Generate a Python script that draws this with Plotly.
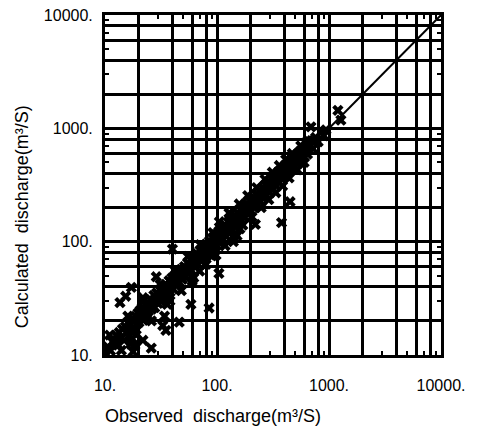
import plotly.graph_objects as go

# Observed vs. calculated discharge (m^3/s), paired values
observed = [
    10.1, 10.6, 11.2, 11.7, 12.1, 12.6, 13.1, 13.4, 13.9, 14.3, 14.8, 15.2, 15.7, 16.1,
    16.5, 16.9, 17.0, 17.4, 17.8, 18.3, 18.5, 18.8, 19.2, 19.7,
    13.6, 15.3, 17.2, 21.8, 12.7, 17.8, 21.8, 25.9, 17.5, 11.0, 14.0, 16.0, 19.0,
    20.1, 20.6, 21.0, 21.5, 22.0, 22.4, 22.9, 23.5, 24.0, 24.4, 25.0, 25.6, 26.1, 26.7,
    27.3, 27.8, 28.4, 29.0, 29.7, 30.3, 30.9, 31.6, 32.2, 32.9, 33.6, 34.3, 35.0, 35.8,
    36.5, 37.3, 38.1, 38.9, 39.7, 40.5, 41.4, 42.3, 43.2, 44.1, 45.0, 46.0, 47.0, 48.0, 49.0,
    28.7, 40.0, 34.0, 32.8, 35.0, 46.0, 38.0,
    22.0, 26.0, 31.0, 36.0, 42.0, 48.0, 55.0, 62.0, 71.0, 80.0, 92.0, 98.0,
    50.1, 51.2, 52.3, 53.4, 54.6, 55.8, 57.0, 58.2, 59.5, 60.8, 62.1, 63.4, 64.8, 66.2,
    67.6, 69.1, 70.6, 72.1, 73.7, 75.3, 76.9, 78.6, 80.3, 82.0, 83.8, 85.6, 87.5, 89.4,
    91.3, 93.3, 95.3, 97.4, 99.5,
    58.5, 85.0, 104.0, 60.0, 70.0, 90.0,
    101.6, 103.8, 106.0, 108.3, 110.7, 113.1, 115.5, 118.0, 120.6, 123.2, 125.9, 128.6,
    131.4, 134.2, 137.1, 140.1, 143.1, 146.2, 149.4, 152.6, 155.9, 159.3, 162.7, 166.2,
    169.8, 173.5, 177.2, 181.1, 185.0, 189.0, 193.1, 197.2,
    128.0, 151.0, 220.0, 179.0, 140.0, 160.0,
    105.0, 118.0, 132.0, 145.0, 158.0, 170.0, 188.0, 205.0, 226.0, 248.0, 268.0, 290.0,
    312.0, 335.0, 360.0, 385.0, 410.0, 440.0, 470.0, 520.0, 560.0, 600.0, 650.0,
    201.5, 205.9, 210.3, 214.9, 219.5, 224.3, 229.1, 234.1, 239.2, 244.3, 249.6, 255.0,
    260.5, 266.2, 271.9, 277.8, 283.8, 290.0, 296.2, 302.6, 309.2, 315.9, 322.7, 329.7,
    336.8, 344.1, 351.6, 359.2, 366.9, 374.9, 383.0, 391.3, 399.7, 408.4, 417.2, 426.3,
    435.5, 444.9, 454.5, 464.4, 474.4, 484.7, 495.2,
    449.0, 377.0,
    506.0, 517.0, 528.0, 540.0, 552.0, 564.0, 576.0, 589.0, 602.0, 615.0, 629.0, 643.0,
    657.0, 690.0, 700.0, 720.0, 760.0, 800.0, 850.0, 900.0, 940.0, 1200.0, 1277.0,
]
calculated = [
    10.4, 11.8, 10.9, 13.1, 12.6, 14.9, 12.2, 15.8, 14.1, 16.9, 13.5, 17.8, 15.9, 19.2,
    14.6, 18.3, 12.5, 16.8, 20.7, 17.1, 12.2, 21.9, 18.6, 23.4,
    29.0, 33.0, 39.5, 32.0, 13.1, 10.7, 13.5, 11.5, 14.0, 15.0, 11.0, 22.0, 15.0,
    19.4, 24.8, 22.1, 26.3, 20.2, 25.1, 27.9, 23.0, 28.6, 21.7, 27.2, 30.8, 25.4, 29.9,
    33.6, 26.2, 31.4, 35.3, 28.5, 33.1, 37.6, 29.8, 36.4, 40.1, 31.9, 38.2, 41.5, 34.6,
    39.8, 45.2, 36.0, 43.7, 47.9, 38.4, 45.1, 50.6, 41.0, 48.3, 53.7, 43.8, 51.2, 56.9, 46.5,
    49.0, 86.0, 22.0, 18.2, 16.5, 19.5, 30.0,
    30.0, 20.0, 42.0, 28.0, 56.0, 37.0, 74.0, 48.0, 94.0, 63.0, 120.0, 76.0,
    55.0, 60.3, 48.7, 58.1, 64.8, 52.9, 62.2, 69.5, 55.3, 66.9, 74.0, 59.8, 70.5, 78.3,
    63.1, 75.6, 83.9, 67.4, 80.2, 89.1, 71.8, 86.0, 95.2, 76.3, 91.9, 101.4, 81.7, 97.3,
    108.0, 87.4, 104.6, 115.2, 92.8,
    28.0, 26.0, 52.5, 45.0, 55.0, 75.0,
    111.8, 123.5, 97.6, 118.2, 131.0, 104.5, 126.9, 139.8, 111.2, 134.5, 149.0, 118.7,
    143.6, 158.5, 126.8, 152.9, 168.2, 135.1, 162.7, 178.9, 143.8, 173.4, 190.2, 153.6,
    185.0, 201.3, 163.8, 197.2, 213.6, 174.4, 210.1, 229.3,
    179.0, 113.0, 142.0, 204.0, 100.0, 130.0,
    150.0, 92.0, 175.0, 118.0, 215.0, 140.0, 255.0, 165.0, 300.0, 200.0, 355.0, 235.0,
    410.0, 270.0, 470.0, 310.0, 530.0, 365.0, 600.0, 430.0, 700.0, 500.0, 780.0,
    186.0, 224.0, 245.6, 198.4, 238.7, 262.1, 211.5, 254.3, 279.8, 225.6, 271.5, 297.4,
    240.3, 289.1, 317.2, 256.4, 308.2, 337.9, 273.5, 328.6, 359.8, 291.6, 350.4, 383.0,
    310.9, 373.6, 407.5, 331.6, 398.1, 433.4, 353.5, 424.6, 460.8, 376.9, 452.7, 490.3,
    401.9, 482.3, 522.0, 428.6, 514.0, 555.5, 457.0,
    225.0, 147.0,
    548.0, 590.0, 487.0, 583.0, 628.0, 520.0, 621.0, 668.0, 555.0, 662.0, 712.0, 592.0,
    705.0, 1030.0, 780.0, 660.0, 830.0, 760.0, 930.0, 860.0, 970.0, 1440.0, 1180.0,
]

# 1:1 reference line
line_x = [10, 10000]
line_y = [10, 10000]

grid_vals = [10, 20, 40, 60, 80, 100, 200, 400, 600, 800,
             1000, 2000, 4000, 6000, 8000, 10000]
grid_text = ["10.", "", "", "", "", "100.", "", "", "", "",
             "1000.", "", "", "", "", "10000."]
minor_vals = [30, 50, 70, 90, 300, 500, 700, 900, 3000, 5000, 7000, 9000]

fig = go.Figure()
fig.add_trace(go.Scatter(x=line_x, y=line_y, mode="lines",
                         line=dict(color="black", width=2), showlegend=False))
fig.add_trace(go.Scatter(x=observed, y=calculated, mode="markers",
                         marker=dict(symbol="x", size=10, color="black"),
                         showlegend=False))

axis_common = dict(
    type="log", range=[1, 4],
    tickmode="array", tickvals=grid_vals, ticktext=grid_text,
    ticks="", showgrid=True, gridcolor="black", gridwidth=2.5,
    showline=True, linecolor="black", linewidth=3, mirror="allticks",
    zeroline=False,
    tickfont=dict(family="Liberation Sans", size=16, color="black"),
    minor=dict(tickmode="array", tickvals=minor_vals, ticks="inside",
               ticklen=4, tickwidth=2, tickcolor="black", showgrid=False),
)

fig.update_xaxes(**axis_common, ticklabelstandoff=14)
fig.update_yaxes(**axis_common, ticklabelstandoff=6)

label_font = dict(family="Liberation Sans", size=18, color="black")
fig.add_annotation(text="Observed\u00a0\u00a0discharge(m\u00b3/S)",
                   xref="paper", yref="paper", x=0.32, y=-0.178,
                   showarrow=False, font=label_font,
                   xanchor="center", yanchor="middle")
fig.add_annotation(text="Calculated\u00a0\u00a0discharge(m\u00b3/S)",
                   xref="paper", yref="paper", x=-0.247, y=0.405,
                   textangle=-90, showarrow=False, font=label_font,
                   xanchor="center", yanchor="middle")

fig.update_layout(
    width=482, height=433,
    margin=dict(l=105, r=41, t=7, b=78),
    plot_bgcolor="white", paper_bgcolor="white",
)

fig.write_html("out.html")
